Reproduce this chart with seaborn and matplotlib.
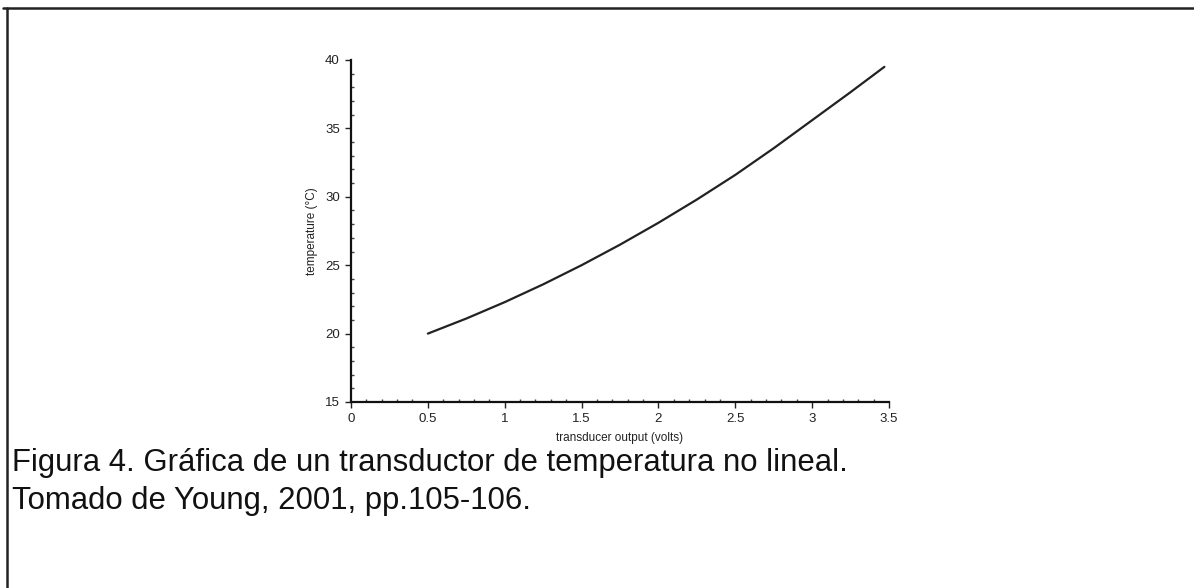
import matplotlib
matplotlib.use('Agg')
import matplotlib.pyplot as plt
import matplotlib.ticker as mticker
from matplotlib.lines import Line2D
import seaborn as sns
import pandas as pd

# values
volts = [0.5, 0.75, 1.0, 1.25, 1.5, 1.75, 2.0, 2.25, 2.5, 2.75, 3.0, 3.25, 3.47]
temp_c = [20.0, 21.1, 22.3, 23.6, 25.0, 26.5, 28.1, 29.8, 31.6, 33.55, 35.6, 37.65, 39.5]

x_ticks = [0, 0.5, 1, 1.5, 2, 2.5, 3, 3.5]
x_tick_labels = ['0', '0.5', '1', '1.5', '2', '2.5', '3', '3.5']
y_ticks = [15, 20, 25, 30, 35, 40]

caption = ['Figura 4. Gráfica de un transductor de temperatura no lineal.',
           'Tomado de Young, 2001, pp.105-106.']

df = pd.DataFrame({'volts': volts, 'temp': temp_c})

sns.set_style('ticks')
plt.rcParams['font.family'] = ['Liberation Sans', 'DejaVu Sans']

fig = plt.figure(figsize=(11.94, 5.88), dpi=100)
ax = fig.add_axes([351 / 1194, 1 - 402 / 588, 538 / 1194, 342 / 588])

sns.lineplot(data=df, x='volts', y='temp', ax=ax, color='#222222', linewidth=1.6)

ax.set_xlim(0, 3.5)
ax.set_ylim(15, 40)
ax.set_xticks(x_ticks)
ax.set_xticklabels(x_tick_labels)
ax.set_yticks(y_ticks)
ax.xaxis.set_minor_locator(mticker.MultipleLocator(0.1))
ax.yaxis.set_minor_locator(mticker.MultipleLocator(1))
ax.tick_params(which='major', direction='out', length=4, width=1, labelsize=9.5,
               colors='#222222', pad=4)
ax.tick_params(which='minor', direction='in', length=2.5, width=1, colors='#444444')

ax.set_xlabel('transducer output (volts)', fontsize=8.5, color='#222222', labelpad=5)
ax.set_ylabel('temperature (°C)', fontsize=8.5, color='#222222', labelpad=5)

sns.despine(ax=ax)
for side in ['left', 'bottom']:
    ax.spines[side].set_linewidth(1.6)
    ax.spines[side].set_color('#111111')

# caption text under the chart
fig.text(12 / 1194, 1 - 463 / 588, caption[0], fontsize=22.4, va='center', ha='left',
         color='#111111')
fig.text(12 / 1194, 1 - 501 / 588, caption[1], fontsize=22.4, va='center', ha='left',
         color='#111111')

# frame lines on top and left
fig.add_artist(Line2D([3 / 1194, 1], [1 - 7.5 / 588, 1 - 7.5 / 588], color='#222222',
                      linewidth=1.8, transform=fig.transFigure))
fig.add_artist(Line2D([7 / 1194, 7 / 1194], [0, 1 - 7.5 / 588], color='#222222',
                      linewidth=1.8, transform=fig.transFigure))

fig.savefig('out.png', dpi=100)
